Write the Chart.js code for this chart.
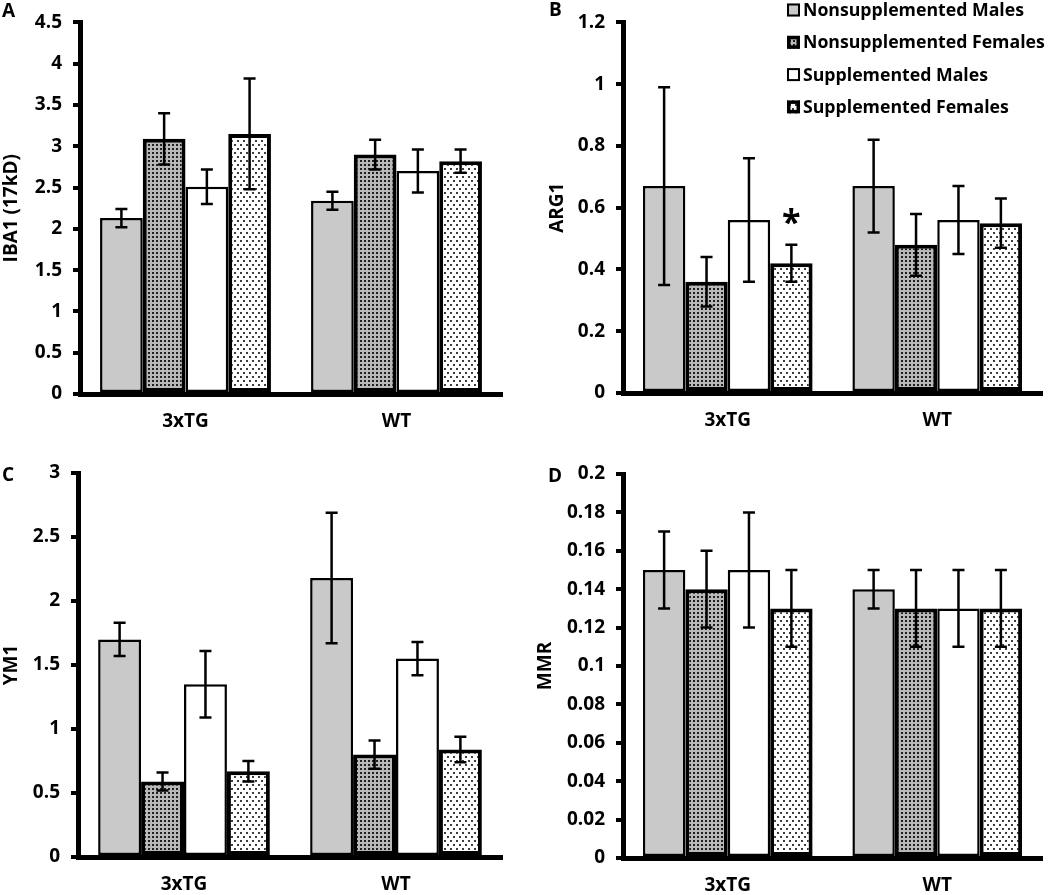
<!DOCTYPE html>
<html>
<head>
<meta charset="utf-8">
<script src="https://cdn.jsdelivr.net/npm/chart.js@4.4.1/dist/chart.umd.min.js"></script>
<style>
  body { margin: 0; background: #fff; }
  #wrap { position: relative; width: 1050px; height: 895px; overflow: hidden; }
  canvas { position: absolute; }
  .letter { position: absolute; font-family: 'Open Sans', sans-serif; font-weight: 700; font-size: 19px; line-height: 19px; color: #000; }
</style>
</head>
<body>
<div id="wrap">
  <canvas id="chartA" width="525" height="440" style="left:0;top:0"></canvas>
  <canvas id="chartB" width="525" height="440" style="left:525px;top:0"></canvas>
  <canvas id="chartC" width="525" height="455" style="left:0;top:440px"></canvas>
  <canvas id="chartD" width="525" height="455" style="left:525px;top:440px"></canvas>
  <div class="letter" style="left:2px;top:1px">A</div>
  <div class="letter" style="left:549px;top:0px">B</div>
  <div class="letter" style="left:2px;top:465px">C</div>
  <div class="letter" style="left:548px;top:466px">D</div>
</div>
<script>
// groups and series
const groups = ["3xTG", "WT"];
const seriesNames = ["Nonsupplemented Males", "Nonsupplemented Females", "Supplemented Males", "Supplemented Females"];

// one row per series, one value per group
const iba1Means  = [[2.13, 2.34], [3.09, 2.90], [2.51, 2.70], [3.15, 2.82]];
const iba1Errors = [[0.11, 0.11], [0.31, 0.18], [0.21, 0.26], [0.67, 0.14]];
const arg1Means  = [[0.67, 0.67], [0.36, 0.48], [0.56, 0.56], [0.42, 0.55]];
const arg1Errors = [[0.32, 0.15], [0.08, 0.10], [0.20, 0.11], [0.06, 0.08]];
const arg1Marks  = [["", ""], ["", ""], ["", ""], ["*", ""]];
const ym1Means   = [[1.70, 2.18], [0.59, 0.80], [1.35, 1.55], [0.67, 0.84]];
const ym1Errors  = [[0.13, 0.51], [0.07, 0.11], [0.26, 0.13], [0.08, 0.10]];
const mmrMeans   = [[0.15, 0.14], [0.14, 0.13], [0.15, 0.13], [0.13, 0.13]];
const mmrErrors  = [[0.02, 0.01], [0.02, 0.02], [0.03, 0.02], [0.02, 0.02]];

const FONT = "'Open Sans', sans-serif";
Chart.defaults.font.family = FONT;
Chart.defaults.color = "#000";

// dotted fills
function makePattern(bg, dot, w, h, dots, dotSize) {
    const c = document.createElement("canvas");
    c.width = w; c.height = h;
    const g = c.getContext("2d");
    g.fillStyle = bg;
    g.fillRect(0, 0, w, h);
    g.fillStyle = dot;
    dots.forEach(d => g.fillRect(d[0], d[1], dotSize, dotSize));
    return g.createPattern(c, "repeat");
}

const fills = [
    "#c9c9c9",
    makePattern("#b8b8b8", "#1e1e1e", 4, 4, [[0, 0]], 2),
    "#ffffff",
    makePattern("#ffffff", "#3c3c3c", 6, 8, [[0, 0], [3, 4]], 2)
];
const borderWidths = [2.5, 4, 2.5, 4];

const errorBarPlugin = {
    id: "errorBars",
    afterDatasetsDraw(chart) {
        const ctx = chart.ctx;
        const y = chart.scales.y;
        chart.data.datasets.forEach((ds, i) => {
            const meta = chart.getDatasetMeta(i);
            meta.data.forEach((bar, j) => {
                const v = ds.data[j], e = ds.errors[j];
                const top = y.getPixelForValue(v + e);
                const bot = y.getPixelForValue(v - e);
                ctx.save();
                ctx.strokeStyle = "#000";
                ctx.lineWidth = 2.5;
                ctx.beginPath();
                ctx.moveTo(bar.x, top); ctx.lineTo(bar.x, bot);
                ctx.moveTo(bar.x - 6, top); ctx.lineTo(bar.x + 6, top);
                ctx.moveTo(bar.x - 6, bot); ctx.lineTo(bar.x + 6, bot);
                ctx.stroke();
                if (ds.marks && ds.marks[j]) {
                    ctx.fillStyle = "#000";
                    ctx.font = "700 34px " + FONT;
                    ctx.textAlign = "center";
                    ctx.textBaseline = "middle";
                    ctx.fillText(ds.marks[j], bar.x, top - 20);
                }
                ctx.restore();
            });
        });
    }
};

const legendPlugin = {
    id: "boxLegend",
    afterDraw(chart, args, opts) {
        if (!opts.show) return;
        const ctx = chart.ctx;
        ctx.save();
        chart.data.datasets.forEach((ds, i) => {
            const cy = opts.y + i * opts.gap;
            ctx.fillStyle = ds.backgroundColor;
            ctx.fillRect(opts.x, cy - 6.5, 13, 13);
            ctx.strokeStyle = "#000";
            ctx.lineWidth = i % 2 ? 3.5 : 2;
            ctx.strokeRect(opts.x + ctx.lineWidth / 2, cy - 6.5 + ctx.lineWidth / 2, 13 - ctx.lineWidth, 13 - ctx.lineWidth);
            ctx.fillStyle = "#000";
            ctx.font = "700 17.7px " + FONT;
            ctx.textAlign = "left";
            ctx.textBaseline = "middle";
            ctx.fillText(ds.label, opts.x + 16, cy + 1);
        });
        ctx.restore();
    }
};

function makeChart(id, means, errors, marks, o) {
    new Chart(document.getElementById(id), {
        type: "bar",
        data: {
            labels: groups,
            datasets: seriesNames.map((name, i) => ({
                label: name,
                data: means[i],
                errors: errors[i],
                marks: marks ? marks[i] : null,
                backgroundColor: fills[i],
                borderColor: "#000",
                borderWidth: borderWidths[i],
                borderSkipped: false,
                categoryPercentage: 0.81,
                barPercentage: 1
            }))
        },
        options: {
            responsive: false,
            animation: false,
            layout: { padding: { top: o.top, right: o.right, bottom: 0, left: 0 } },
            plugins: {
                legend: { display: false },
                tooltip: { enabled: false },
                boxLegend: { show: !!o.legend, x: 262, y: 10, gap: 32.3 }
            },
            scales: {
                x: {
                    grid: { display: false, drawTicks: false },
                    border: { display: true, color: "#000", width: 5 },
                    ticks: { padding: 16, font: { size: 19, weight: 700 } },
                    afterFit: s => { s.height = o.xHeight; }
                },
                y: {
                    min: 0,
                    max: o.max,
                    ticks: {
                        stepSize: o.step,
                        padding: 11,
                        font: { size: 19, weight: 700 },
                        callback: v => String(+v.toFixed(3))
                    },
                    grid: { drawOnChartArea: false, color: "#000", lineWidth: 4, tickLength: 7 },
                    border: { color: "#000", width: 5 },
                    title: {
                        display: true,
                        text: o.title,
                        font: { size: 19, weight: 700 },
                        padding: { top: o.titlePad, bottom: 0 }
                    },
                    afterFit: s => { s.width = o.left; }
                }
            }
        },
        plugins: [errorBarPlugin, legendPlugin]
    });
}

makeChart("chartA", iba1Means, iba1Errors, null,
    { title: "IBA1 (17kD)", max: 4.5, step: 0.5, top: 10, right: 23, left: 80, xHeight: 46, titlePad: 0 });
makeChart("chartB", arg1Means, arg1Errors, arg1Marks,
    { title: "ARG1", max: 1.2, step: 0.2, top: 8, right: 8, left: 98, xHeight: 47, titlePad: 21, legend: true });
makeChart("chartC", ym1Means, ym1Errors, null,
    { title: "YM1", max: 3, step: 0.5, top: 33, right: 23, left: 78, xHeight: 38, titlePad: 0 });
makeChart("chartD", mmrMeans, mmrErrors, null,
    { title: "MMR", max: 0.2, step: 0.02, top: 34, right: 8, left: 98, xHeight: 37, titlePad: 9 });
</script>
</body>
</html>
